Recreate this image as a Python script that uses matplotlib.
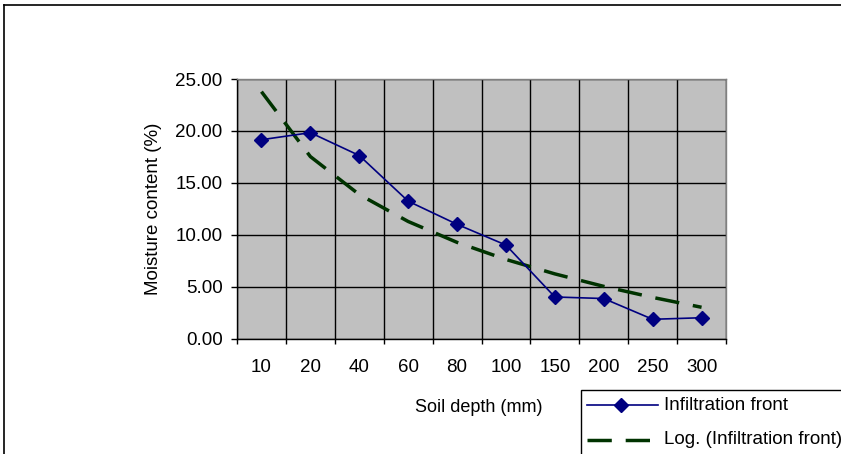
import numpy as np
import matplotlib
matplotlib.use("Agg")
import matplotlib.pyplot as plt
from matplotlib.lines import Line2D
from matplotlib.patches import Rectangle

categories = ["10", "20", "40", "60", "80", "100", "150", "200", "250", "300"]
moisture = [19.15, 19.83, 17.63, 13.23, 11.0, 9.0, 4.0, 3.85, 1.85, 2.0]
y_ticks = [0, 5, 10, 15, 20, 25]

plt.rcParams['font.family'] = ['Liberation Sans', 'DejaVu Sans']
FS = 13.5

W, H = 841, 454
fig = plt.figure(figsize=(W / 100, H / 100), dpi=100)
fig.patch.set_facecolor('white')

def fx(px):
    return px / W

def fy(py):
    return 1 - py / H

left, right, top, bottom = 237, 726, 79, 338.5
ax = fig.add_axes([fx(left), fy(bottom), fx(right) - fx(left), fy(top) - fy(bottom)])
ax.set_facecolor('#C0C0C0')

n = len(categories)
xpos = np.arange(n)
ax.set_xlim(-0.5, n - 0.5)
ax.set_ylim(0, 25)

ax.set_yticks(y_ticks)
ax.set_yticklabels([f"{v:.2f}" for v in y_ticks], fontsize=FS)
ax.set_xticks(np.arange(n + 1) - 0.5)
ax.set_xticklabels([])
ax.set_xticks(xpos, minor=True)
ax.set_xticklabels(categories, minor=True, fontsize=FS)
ax.grid(True, which='major', color='black', linewidth=1.0)
ax.set_axisbelow(True)
ax.tick_params(axis='y', which='major', direction='out', length=4.3, width=1, pad=6.0, color='black')
ax.tick_params(axis='x', which='major', direction='out', length=3.6, width=1, color='black')
ax.tick_params(axis='x', which='minor', length=0, pad=15.0)
for s in ['top', 'right']:
    ax.spines[s].set_color('#808080')
    ax.spines[s].set_linewidth(1.0)
for s in ['left', 'bottom']:
    ax.spines[s].set_color('black')
    ax.spines[s].set_linewidth(1.0)

# logarithmic trendline fitted to the series (as Excel does)
xs = np.arange(1, n + 1)
a, b = np.polyfit(np.log(xs), moisture, 1)
trend = a * np.log(xs) + b
ax.plot(xpos, trend, color='#003300', linewidth=2.5, dashes=(7, 4), zorder=3)

ax.plot(xpos, moisture, color='#000080', linewidth=1.2, marker='D', markersize=7.5,
        markerfacecolor='#000080', markeredgecolor='#000080', zorder=4)

fig.text(fx(153), fy(209), 'Moisture content (%)', rotation=90, ha='center', va='center', fontsize=FS)
fig.text(fx(479), fy(407), 'Soil depth (mm)', ha='center', va='center', fontsize=13)

# chart area border (left and top visible)
fig.add_artist(Line2D([fx(3.5), fx(3.5)], [0, fy(4.5)], transform=fig.transFigure, color='black', linewidth=1.2))
fig.add_artist(Line2D([fx(3.5), 1], [fy(4.5), fy(4.5)], transform=fig.transFigure, color='black', linewidth=1.2))

# legend box
fig.add_artist(Rectangle((fx(581), fy(470)), fx(300), fy(390) - fy(470), transform=fig.transFigure,
                         facecolor='white', edgecolor='black', linewidth=1.0, zorder=5))
fig.add_artist(Line2D([fx(587), fx(621), fx(658)], [fy(405), fy(405), fy(405)], transform=fig.transFigure,
                      color='#000080', linewidth=1.2, marker='D', markersize=7.5, markevery=[1],
                      zorder=6))
fig.add_artist(Line2D([fx(587), fx(650)], [fy(440), fy(440)], transform=fig.transFigure,
                      color='#003300', linewidth=2.5, dashes=(7, 4), zorder=6))
fig.text(fx(664), fy(405), 'Infiltration front', ha='left', va='center', fontsize=FS, zorder=7)
fig.text(fx(664), fy(440), 'Log. (Infiltration front)', ha='left', va='center', fontsize=FS, zorder=7)

fig.savefig('out.png', dpi=100)
